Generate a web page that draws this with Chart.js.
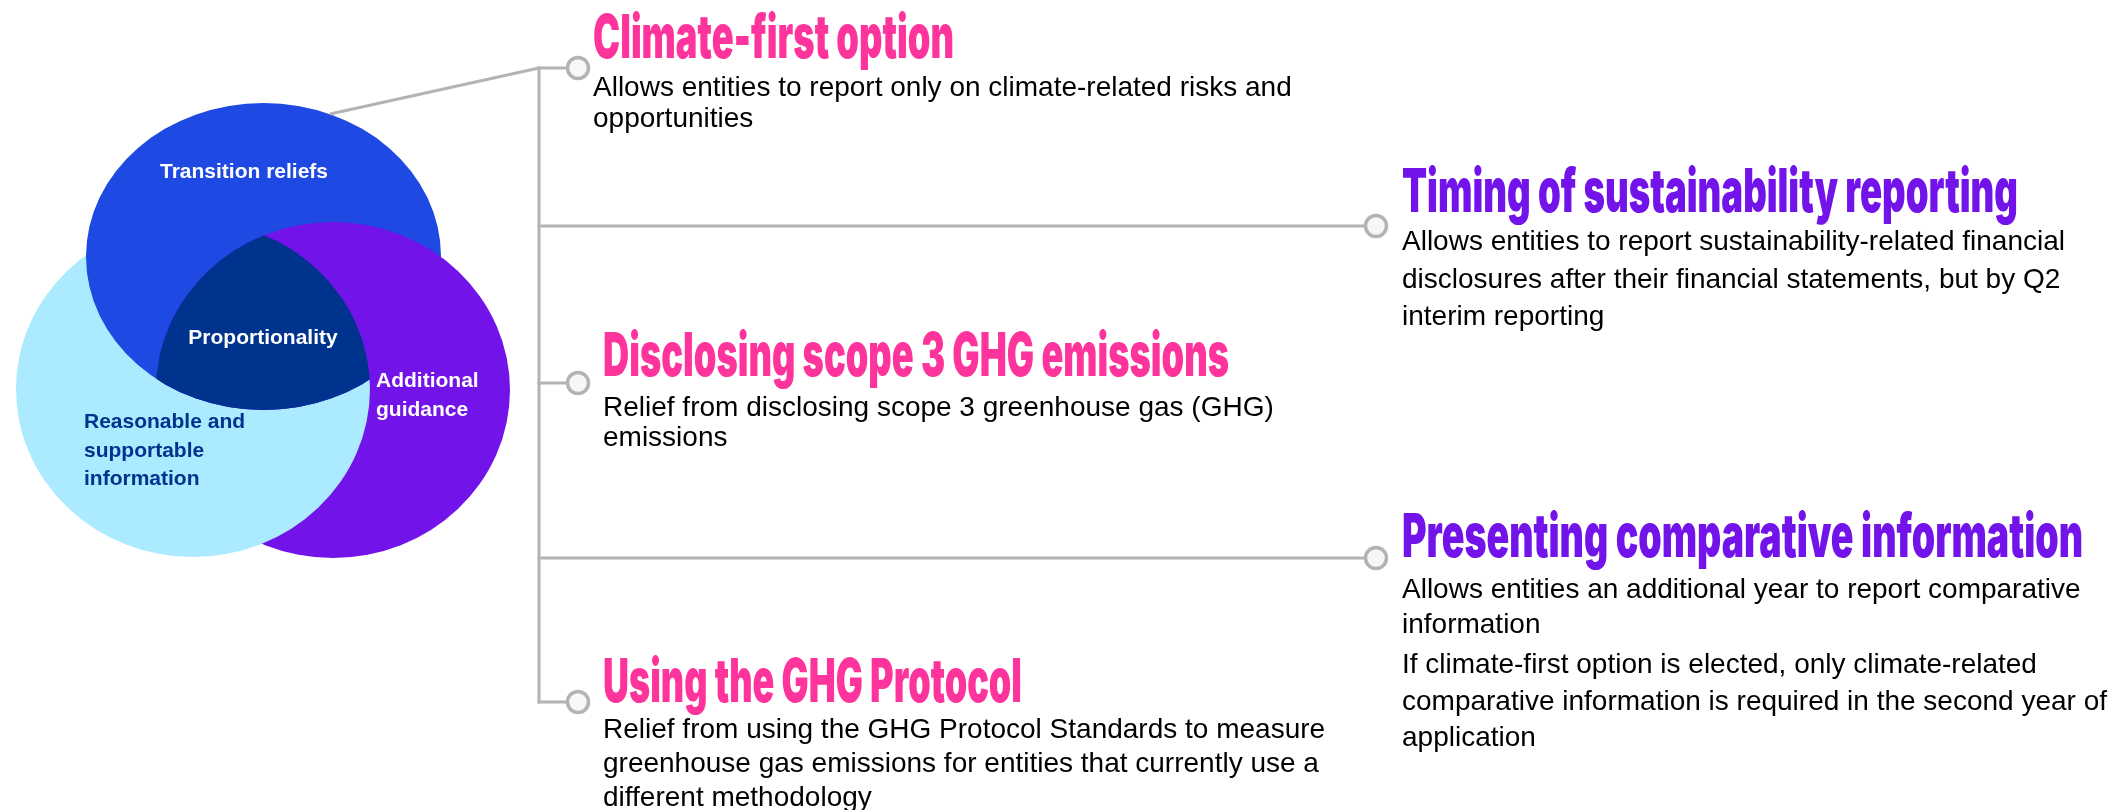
<!DOCTYPE html>
<html><head><meta charset="utf-8">
<script src="https://cdn.jsdelivr.net/npm/chart.js@4/dist/chart.umd.min.js"></script>
<style>html,body{margin:0;padding:0;background:#fff;overflow:hidden}
#wrap{position:relative;width:2114px;height:810px}</style>
</head><body><div id="wrap"><canvas id="c" width="2114" height="810"></canvas></div>
<script>
// ---------- DATA ----------
const topicTitles = [
  "Climate-first option",
  "Timing of sustainability reporting",
  "Disclosing scope 3 GHG emissions",
  "Presenting comparative information",
  "Using the GHG Protocol"
];
const topicDescriptions = [
  ["Allows entities to report only on climate-related risks and", "opportunities"],
  ["Allows entities to report sustainability-related financial", "disclosures after their financial statements, but by Q2", "interim reporting"],
  ["Relief from disclosing scope 3 greenhouse gas (GHG)", "emissions"],
  ["Allows entities an additional year to report comparative", "information", "If climate-first option is elected, only climate-related", "comparative information is required in the second year of", "application"],
  ["Relief from using the GHG Protocol Standards to measure", "greenhouse gas emissions for entities that currently use a", "different methodology"]
];
const vennSetLabels = [["Transition reliefs"], ["Reasonable and", "supportable", "information"], ["Additional", "guidance"]];
const vennCenterLabel = "Proportionality";

// ---------- LAYOUT (in the chart's data space: x 0..2114, y 0..810) ----------
const layout = {
  trunkX: 539,
  nodes: [{x:578,y:68},{x:1376,y:226},{x:578,y:383},{x:1376,y:558},{x:578,y:702}],
  connector: [{x:330,y:114},{x:539,y:68}],
  textX: [593,1402,603,1402,603],
  titleBase: [58,212,376,557,702],
  titleWidth: [361,616,626,681,419],
  titleCap: 44,
  descY: [[88,119],[242,280,317],[408,438],[590,625,665,702,738],[730,764,798]],
  ellipses: {
    blue:   {cx:263.5, cy:256.5, rx:177.5, ry:153.5},
    light:  {cx:193,   cy:389,   rx:177,   ry:168},
    purple: {cx:333,   cy:390,   rx:177,   ry:168}
  },
  vennText: [
    {x:244, y:[172], align:'center', color:'#FFFFFF'},
    {x:84,  y:[422,451,479], align:'left', color:'#00338D'},
    {x:376, y:[381,410], align:'left', color:'#FFFFFF'}
  ],
  centerText: {x:263, y:338, color:'#FFFFFF'}
};
const colors = {
  blue:'#1E49E2', light:'#ACEAFF', purple:'#7213EA', navy:'#00338D',
  pink:'#FD349C', line:'#B3B3B3', nodeFill:'#F7F7F7', text:'#000000'
};
const titleColors = [colors.pink, colors.purple, colors.pink, colors.purple, colors.pink];

// ---------- PLUGINS ----------
function ellPath(ctx, chart, e){
  const xs = chart.scales.x, ys = chart.scales.y;
  const cx = xs.getPixelForValue(e.cx), cy = ys.getPixelForValue(e.cy);
  const rx = Math.abs(xs.getPixelForValue(e.cx + e.rx) - cx);
  const ry = Math.abs(ys.getPixelForValue(e.cy + e.ry) - cy);
  ctx.beginPath();
  ctx.ellipse(cx, cy, rx, ry, 0, 0, Math.PI*2);
}
const vennPlugin = {
  id:'venn',
  beforeDatasetsDraw(chart){
    const ctx = chart.ctx, E = layout.ellipses;
    ctx.save();
    ellPath(ctx, chart, E.purple); ctx.fillStyle = colors.purple; ctx.fill();
    ellPath(ctx, chart, E.light);  ctx.fillStyle = colors.light;  ctx.fill();
    ellPath(ctx, chart, E.blue);   ctx.fillStyle = colors.blue;   ctx.fill();
    ctx.save();
    ellPath(ctx, chart, E.blue); ctx.clip();
    ellPath(ctx, chart, E.purple); ctx.fillStyle = colors.purple; ctx.fill();
    ellPath(ctx, chart, E.light); ctx.clip();
    ellPath(ctx, chart, E.purple); ctx.fillStyle = colors.navy; ctx.fill();
    ctx.restore();
    ctx.restore();
  }
};
const textPlugin = {
  id:'texts',
  afterDatasetsDraw(chart){
    const ctx = chart.ctx, xs = chart.scales.x, ys = chart.scales.y;
    ctx.save();
    // venn labels
    ctx.font = 'bold 21px "Liberation Sans", Arial, sans-serif';
    ctx.textBaseline = 'middle';
    vennSetLabels.forEach((lines, i) => {
      const t = layout.vennText[i];
      ctx.fillStyle = t.color; ctx.textAlign = t.align;
      lines.forEach((ln, j) => ctx.fillText(ln, xs.getPixelForValue(t.x), ys.getPixelForValue(t.y[j])));
    });
    ctx.fillStyle = layout.centerText.color; ctx.textAlign = 'center';
    ctx.fillText(vennCenterLabel, xs.getPixelForValue(layout.centerText.x), ys.getPixelForValue(layout.centerText.y));
    // titles
    topicTitles.forEach((t, i) => {
      ctx.save();
      ctx.font = '900 40px Inter, "Liberation Sans", sans-serif';
      ctx.textAlign = 'left'; ctx.textBaseline = 'alphabetic';
      const cap = ctx.measureText('H').actualBoundingBoxAscent || 29;
      const vs = layout.titleCap / cap;
      ctx.translate(xs.getPixelForValue(layout.textX[i]), ys.getPixelForValue(layout.titleBase[i]));
      ctx.scale(1, vs);
      ctx.fillStyle = titleColors[i];
      ctx.fillText(t, 0, 0, layout.titleWidth[i]);
      ctx.restore();
    });
    // descriptions
    ctx.font = '28px "Liberation Sans", Arial, sans-serif';
    ctx.fillStyle = colors.text; ctx.textAlign = 'left'; ctx.textBaseline = 'middle';
    topicDescriptions.forEach((lines, i) => {
      lines.forEach((ln, j) => ctx.fillText(ln, xs.getPixelForValue(layout.textX[i]), ys.getPixelForValue(layout.descY[i][j])));
    });
    ctx.restore();
  }
};

// ---------- DATASETS ----------
const lineStyle = {showLine:true, borderColor:colors.line, borderWidth:3, pointRadius:0, borderCapStyle:'square', order:1, fill:false};
const datasets = [
  {label:'nodes', data: layout.nodes, pointRadius:10.5, pointBackgroundColor:colors.nodeFill,
   pointBorderColor:colors.line, pointBorderWidth:3.5, showLine:false, order:0},
  Object.assign({label:'trunk', data:[{x:layout.trunkX,y:layout.nodes[0].y},{x:layout.trunkX,y:layout.nodes[4].y}]}, lineStyle),
  Object.assign({label:'connector', data: layout.connector}, lineStyle, {borderCapStyle:'butt'})
];
layout.nodes.forEach((n, i) => {
  datasets.push(Object.assign({label:'branch'+i, data:[{x:layout.trunkX,y:n.y},{x:n.x,y:n.y}]}, lineStyle));
});

new Chart(document.getElementById('c'), {
  type:'scatter',
  data:{datasets},
  options:{
    responsive:false, animation:false, devicePixelRatio:1, events:[],
    layout:{padding:0, autoPadding:false},
    plugins:{legend:{display:false}, tooltip:{enabled:false}, title:{display:false}},
    scales:{
      x:{type:'linear', min:0, max:2114, display:false},
      y:{type:'linear', min:0, max:810, reverse:true, display:false}
    }
  },
  plugins:[vennPlugin, textPlugin]
});
</script></body></html>
